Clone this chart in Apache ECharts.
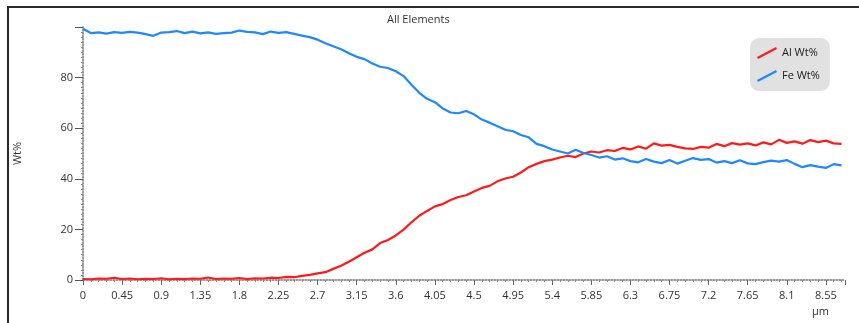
<!DOCTYPE html>
<html><head><meta charset="utf-8">
<script src="https://cdn.jsdelivr.net/npm/echarts@6/dist/echarts.min.js"></script>
<style>
html,body{margin:0;padding:0;background:#fff;overflow:hidden;}
#frame{position:absolute;left:7px;top:6px;width:900px;height:400px;border-left:2px solid #2a2a2a;border-top:2px solid #2a2a2a;}
#chart{position:absolute;left:0;top:0;width:859px;height:323px;}
</style></head>
<body>
<div id="frame"></div>
<div id="chart"></div>
<script>
const distance = [0,0.09,0.18,0.27,0.36,0.45,0.54,0.63,0.72,0.81,0.9,0.99,1.08,1.17,1.26,1.35,1.44,1.53,1.62,1.71,1.8,1.89,1.98,2.07,2.16,2.25,2.34,2.43,2.52,2.61,2.7,2.79,2.88,2.97,3.06,3.15,3.24,3.33,3.42,3.51,3.6,3.69,3.78,3.87,3.96,4.05,4.14,4.23,4.32,4.41,4.5,4.59,4.68,4.77,4.86,4.95,5.04,5.13,5.22,5.31,5.4,5.49,5.58,5.67,5.76,5.85,5.94,6.03,6.12,6.21,6.3,6.39,6.48,6.57,6.66,6.75,6.84,6.93,7.02,7.11,7.2,7.29,7.38,7.47,7.56,7.65,7.74,7.83,7.92,8.01,8.1,8.19,8.28,8.37,8.46,8.55,8.64,8.73];
const alWt = [0.4,0.3,0.6,0.5,0.9,0.4,0.6,0.3,0.5,0.4,0.7,0.3,0.5,0.4,0.6,0.5,1.0,0.4,0.6,0.5,0.8,0.4,0.7,0.6,0.9,0.8,1.2,1.1,1.6,2.0,2.6,3.1,4.4,5.6,7.2,9.0,10.8,12.1,14.6,15.8,17.6,19.9,22.8,25.4,27.3,29.1,30.0,31.6,32.8,33.5,35.0,36.4,37.2,39.0,40.1,40.8,42.5,44.6,45.9,47.0,47.6,48.4,49.1,48.6,50.0,50.8,50.4,51.3,51.0,52.2,51.6,52.8,51.9,54.0,53.1,53.4,52.6,52.0,51.8,52.6,52.3,53.8,52.9,54.1,53.5,54.0,53.2,54.4,53.6,55.4,54.2,54.8,53.9,55.3,54.5,55.1,54.0,53.8];
const feWt = [99.3,97.6,97.9,97.4,98.0,97.7,98.1,97.8,97.2,96.5,97.8,98.0,98.4,97.6,98.2,97.5,97.9,97.3,97.6,97.8,98.6,98.1,97.9,97.2,98.2,97.7,98.0,97.3,96.6,96.0,95.0,93.6,92.4,91.2,89.6,88.2,87.3,85.6,84.3,83.8,82.5,80.6,77.2,74.0,71.6,70.3,67.8,66.2,65.9,66.8,65.5,63.4,62.2,60.8,59.4,58.8,57.3,56.4,53.8,52.9,51.6,50.8,50.0,51.5,50.2,49.4,48.4,48.9,47.6,48.1,47.0,46.5,47.8,46.8,46.2,47.4,46.0,47.1,48.2,47.5,47.8,46.4,47.0,46.2,47.3,46.1,45.8,46.6,47.2,46.8,47.4,45.9,44.6,45.4,44.8,44.3,45.8,45.3];
const seriesNames = ['Al Wt%','Fe Wt%'];

const FONT = "'Open Sans', 'Noto Sans', sans-serif";
const chart = echarts.init(document.getElementById('chart'), null, {renderer:'canvas'});
const pairs = arr => distance.map((d,i)=>[d, arr[i]]);
const legendIcon = 'path://M0,10 L19,0 L20,2 L1,12 Z';
chart.setOption({
  animation:false,
  title:{text:'All Elements', left:382, top:9, textStyle:{fontFamily:FONT, fontSize:11, fontWeight:'normal', color:'#333'}},
  grid:{left:83, right:14, top:27, bottom:43, containLabel:false},
  legend:{
    orient:'vertical', left:750, top:38, padding:[9,10,9,7], itemGap:11,
    backgroundColor:'#e1e1e1', borderRadius:9, itemWidth:20, itemHeight:12,
    icon:legendIcon,
    textStyle:{fontFamily:FONT, fontSize:11, color:'#222'},
    data:seriesNames
  },
  xAxis:{
    type:'value', min:0, max:8.77, interval:0.45,
    axisLine:{show:true, lineStyle:{color:'#777', type:'dotted', width:1.5}},
    axisTick:{show:true, length:5, lineStyle:{color:'#666'}},
    minorTick:{show:true, splitNumber:5, length:2, lineStyle:{color:'#888'}},
    splitLine:{show:false},
    axisLabel:{fontFamily:FONT, fontSize:11, color:'#333', margin:10, showMaxLabel:false}
  },
  yAxis:{
    type:'value', min:0, max:100, interval:20,
    name:'Wt%', nameLocation:'middle', nameGap:60, nameRotate:90,
    nameTextStyle:{fontFamily:FONT, fontSize:11, color:'#333'},
    axisLine:{show:true, lineStyle:{color:'#777', type:'dotted', width:1.5}},
    axisTick:{show:true, length:8, lineStyle:{color:'#555'}},
    minorTick:{show:true, splitNumber:10, length:2, lineStyle:{color:'#888'}},
    splitLine:{show:false},
    axisLabel:{fontFamily:FONT, fontSize:11, color:'#333', margin:10, showMaxLabel:false}
  },
  graphic:[{type:'text', left:812, top:306, style:{text:'µm', font:"11px 'Open Sans', sans-serif", fill:'#333'}}],
  series:[
    {name:seriesNames[0], type:'line', data:pairs(alWt), showSymbol:false, symbol:'none', color:'#ff1a1a', lineStyle:{width:2.2, color:'#ff1a1a'}},
    {name:seriesNames[1], type:'line', data:pairs(feWt), showSymbol:false, symbol:'none', color:'#1e88ff', lineStyle:{width:2.2, color:'#1e88ff'}}
  ]
});
</script>
</body></html>
